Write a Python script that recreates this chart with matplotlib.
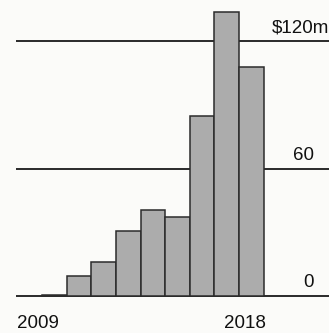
#!/usr/bin/env python3
# Bar chart: yearly totals, $m, 2010-2018
import matplotlib
matplotlib.use("Agg")
import matplotlib.pyplot as plt

years = [2010, 2011, 2012, 2013, 2014, 2015, 2016, 2017, 2018]
values = [0.6, 9.6, 15.9, 30.4, 40.6, 37.3, 84.7, 133.8, 107.6]
grid_values = [0, 60, 120]
grid_labels = ["0", "60", "$120m"]
x_labels = {2009: "2009", 2018: "2018"}

plt.rcParams['font.family'] = ['Liberation Sans', 'DejaVu Sans']

fig = plt.figure(figsize=(3.29, 3.33), dpi=100, facecolor="#fbfbf9")
ax = fig.add_axes([0, 0, 1, 1])
ax.set_facecolor("#fbfbf9")

# horizontal rules behind the bars
ax.hlines(grid_values, 2008.43, 2021.3, color="#1a1a1a", lw=1.3, zorder=1)

ax.bar(years, values, width=1.0, color="#acacac", edgecolor="#2b2b2b",
       linewidth=1.1, zorder=2)

# value labels on the right, sitting above each rule
for v, lab in zip(grid_values, grid_labels):
    if lab.startswith("$"):
        ax.text(2018.84, v + 6.3, lab, ha="left", va="center", fontsize=13.5,
                color="#111111")
    else:
        ax.text(2020.55, v + 6.3, lab, ha="right", va="center", fontsize=13.5,
                color="#111111")

# year labels under the baseline
ax.text(2008.47, -13.0, x_labels[2009], ha="left", va="center", fontsize=13.5,
        color="#111111")
ax.text(2017.75, -13.0, x_labels[2018], ha="center", va="center", fontsize=13.5,
        color="#111111")

ax.set_xlim(2007.78, 2021.16)
ax.set_ylim(-17.4, 139.3)
ax.axis("off")

fig.savefig("out.png", dpi=100, facecolor=fig.get_facecolor())
